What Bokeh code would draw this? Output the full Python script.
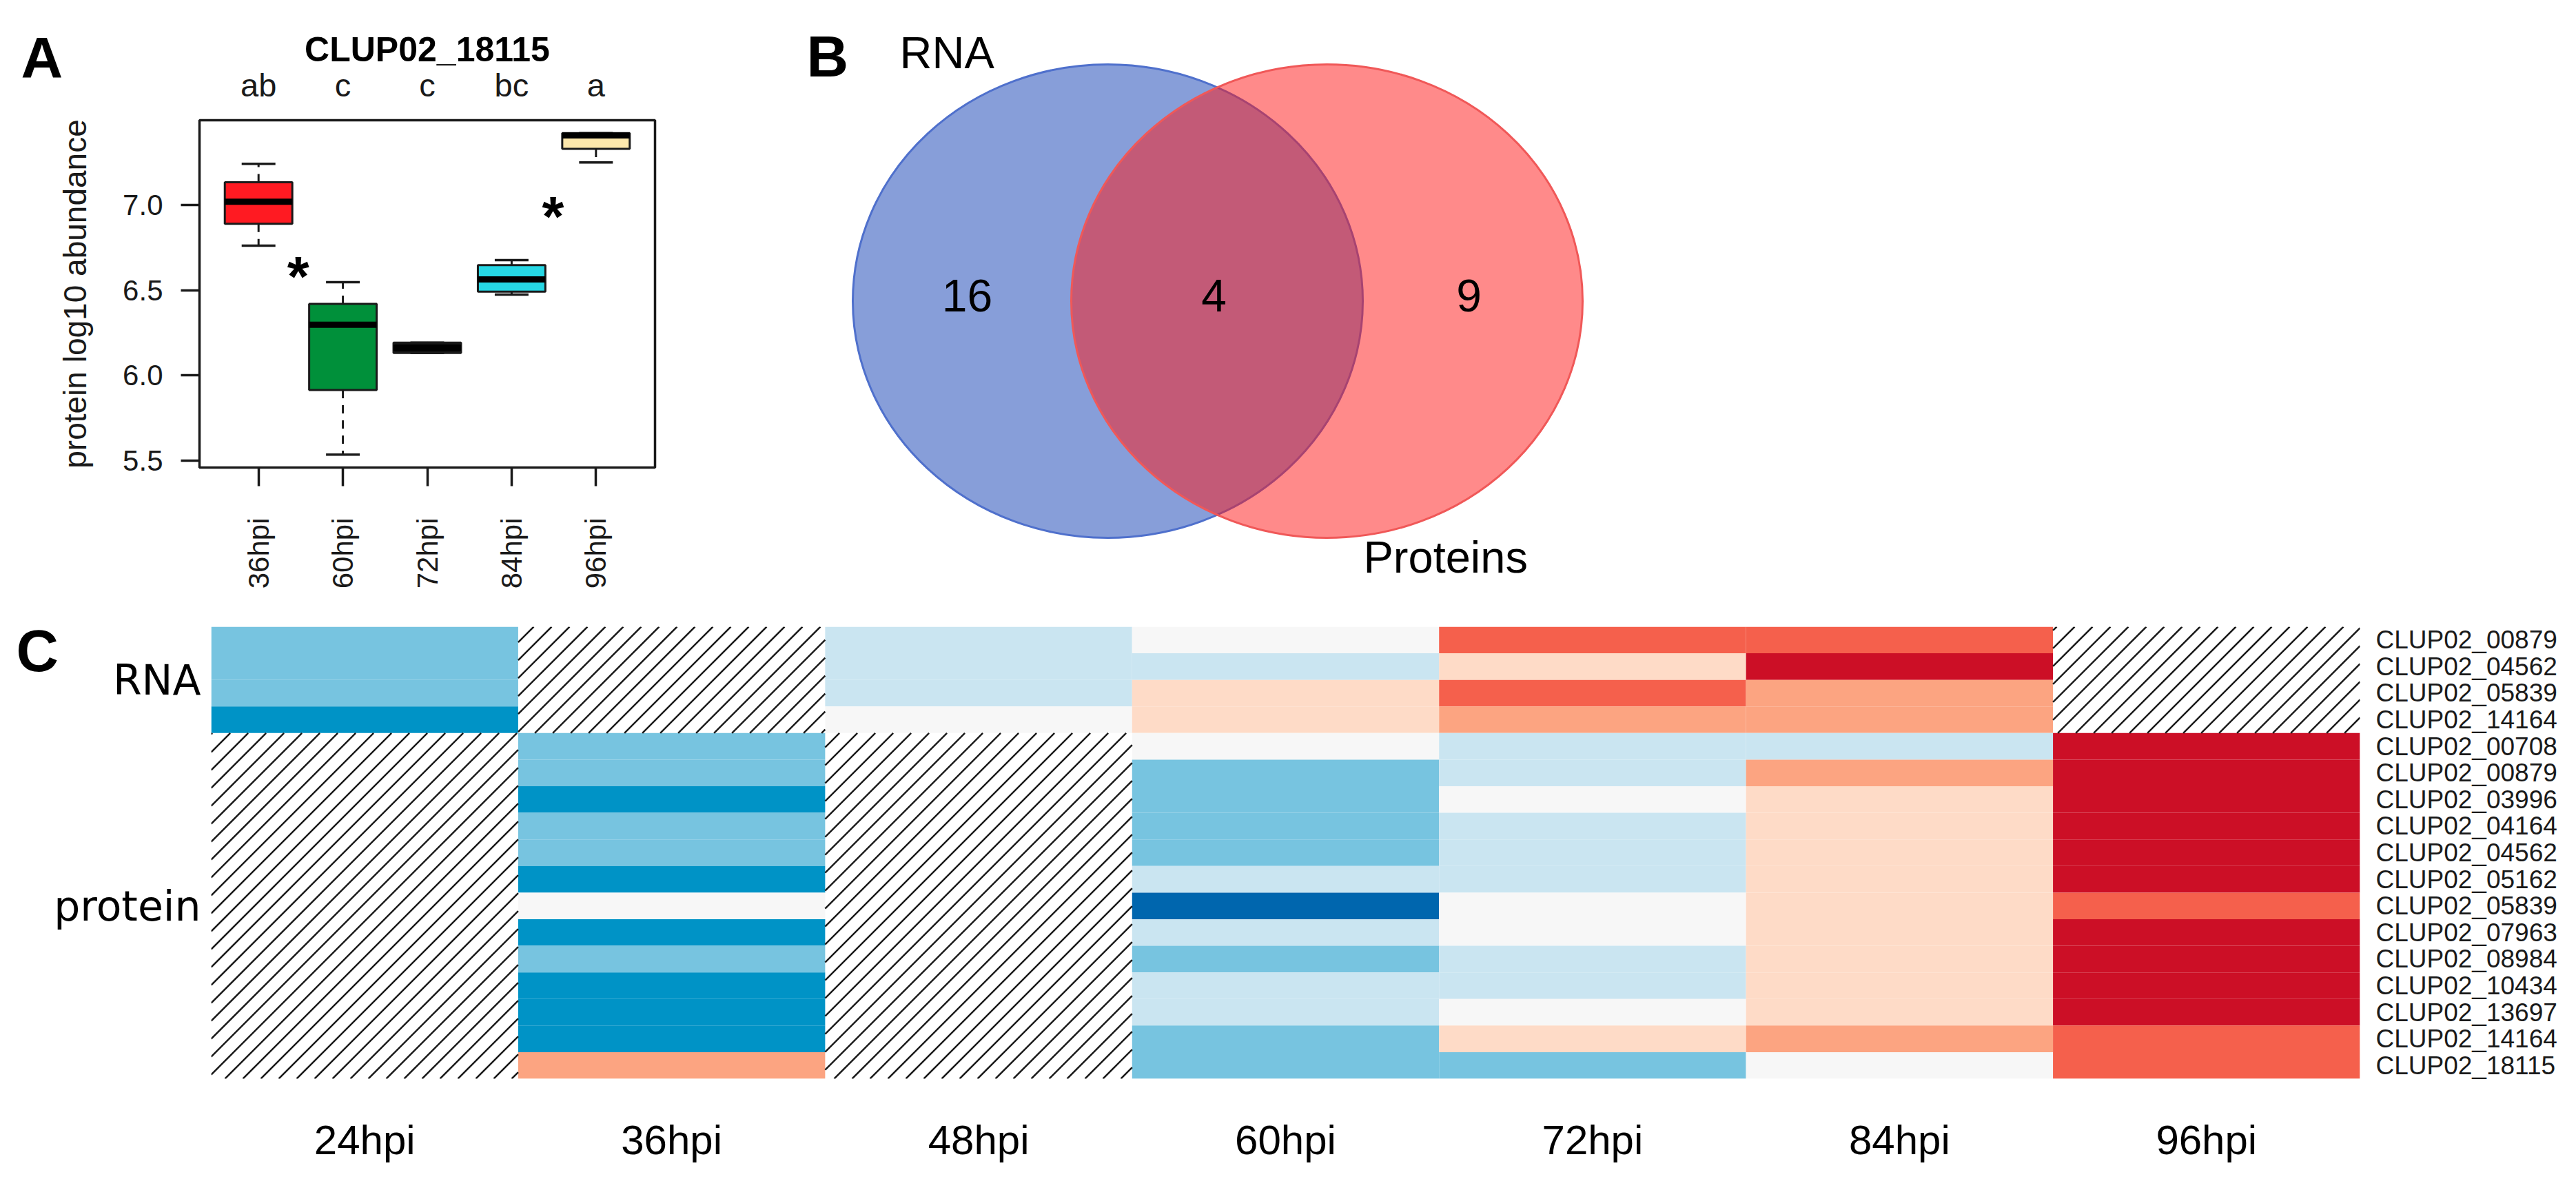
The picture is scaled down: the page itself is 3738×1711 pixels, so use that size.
import math
from bokeh.plotting import figure
from bokeh.models import (Range1d, FactorRange, FixedTicker, LinearAxis,
                          ColumnDataSource, PrintfTickFormatter)
from bokeh.layouts import column, row
from bokeh.transform import linear_cmap
from bokeh.embed import file_html
from bokeh.resources import INLINE
from bokeh.core.properties import value

# ------------------------------------------------------------------ data
# Panel A : boxplot of CLUP02_18115 protein abundance
box_groups = ["36hpi", "60hpi", "72hpi", "84hpi", "96hpi"]
box_low = [6.762, 5.534, 6.131, 6.474, 7.251]
box_q1 = [6.890, 5.914, 6.131, 6.492, 7.331]
box_median = [7.020, 6.297, 6.162, 6.564, 7.410]
box_q3 = [7.134, 6.420, 6.192, 6.648, 7.423]
box_high = [7.243, 6.547, 6.192, 6.677, 7.423]
box_colors = ["#FF1A22", "#00903A", "#111111", "#26D7E4", "#FDE8AC"]
group_letters = ["ab", "c", "c", "bc", "a"]
star_x = [1.47, 4.49]
star_y = [6.623, 6.975]
y_ticks_a = [5.5, 6.0, 6.5, 7.0]

# Panel B : Venn diagram
venn_sets = ["RNA", "Proteins"]
venn_counts = [16, 4, 9]  # RNA only, both, Proteins only

# Panel C : heatmap (levels -4..4, None = not detected)
hours = ["24hpi", "36hpi", "48hpi", "60hpi", "72hpi", "84hpi", "96hpi"]
rna_genes = ["CLUP02_00879", "CLUP02_04562", "CLUP02_05839", "CLUP02_14164"]
rna_levels = [
    [-2, None, -1, 0, 3, 3, None],
    [-2, None, -1, -1, 1, 4, None],
    [-2, None, -1, 1, 3, 2, None],
    [-3, None, 0, 1, 2, 2, None],
]
protein_genes = ["CLUP02_00708", "CLUP02_00879", "CLUP02_03996", "CLUP02_04164",
                 "CLUP02_04562", "CLUP02_05162", "CLUP02_05839", "CLUP02_07963",
                 "CLUP02_08984", "CLUP02_10434", "CLUP02_13697", "CLUP02_14164",
                 "CLUP02_18115"]
protein_levels = [
    [None, -2, None, 0, -1, -1, 4],
    [None, -2, None, -2, -1, 2, 4],
    [None, -3, None, -2, 0, 1, 4],
    [None, -2, None, -2, -1, 1, 4],
    [None, -2, None, -2, -1, 1, 4],
    [None, -3, None, -1, -1, 1, 4],
    [None, 0, None, -4, 0, 1, 3],
    [None, -3, None, -1, 0, 1, 4],
    [None, -2, None, -2, -1, 1, 4],
    [None, -3, None, -1, -1, 1, 4],
    [None, -3, None, -1, 0, 1, 4],
    [None, -3, None, -2, 1, 2, 3],
    [None, 2, None, -2, -2, 0, 3],
]
level_palette = ["#0066AE", "#0093C6", "#77C4E0", "#CAE5F1", "#F7F7F7",
                 "#FEDBC7", "#FCA481", "#F5604C", "#CC0F26"]

FONT = "Liberation Sans"
INK = "#1a1a1a"
# text glyphs anchored with "alphabetic" render about 0.36 em below the anchor
SHIFT = 0.36


def no_align(fig):
    if "frame_align" in fig.properties():
        fig.frame_align = False


# ------------------------------------------------------------------ panel A
n_box = len(box_groups)
xs = list(range(1, n_box + 1))
lo, hi = min(box_low), max(box_high)
pad = 0.04 * (hi - lo)
xpad = 0.04 * n_box
xa0, xa1 = 0.5 - xpad, n_box + 0.5 + xpad
ya0, ya1 = lo - pad, hi + pad

A_W, A_H = 1100, 880
A_L, A_R, A_T, A_B = 289, 150, 174, 202
pa = figure(width=A_W, height=A_H, title=None,
            x_range=Range1d(xa0, xa1), y_range=Range1d(ya0, ya1),
            x_axis_location=None, y_axis_location=None,
            min_border_left=A_L, min_border_right=A_R,
            min_border_top=A_T, min_border_bottom=A_B,
            output_backend="svg", toolbar_location=None)
no_align(pa)
pa.grid.visible = False
pa.outline_line_color = INK
pa.outline_line_width = 3.5

src = ColumnDataSource(dict(
    x=xs, low=box_low, q1=box_q1, med=box_median, q3=box_q3, high=box_high,
    color=box_colors,
    xl=[x - 0.4 for x in xs], xr=[x + 0.4 for x in xs],
    cl=[x - 0.2 for x in xs], cr=[x + 0.2 for x in xs]))

pa.segment(x0="x", y0="q3", x1="x", y1="high", source=src, line_color=INK,
           line_width=3, line_dash="12 10")
pa.segment(x0="x", y0="q1", x1="x", y1="low", source=src, line_color=INK,
           line_width=3, line_dash="12 10")
pa.segment(x0="cl", y0="high", x1="cr", y1="high", source=src, line_color=INK, line_width=3.5)
pa.segment(x0="cl", y0="low", x1="cr", y1="low", source=src, line_color=INK, line_width=3.5)
pa.vbar(x="x", width=0.8, bottom="q1", top="q3", source=src, fill_color="color",
        line_color=INK, line_width=3)
pa.segment(x0="xl", y0="med", x1="xr", y1="med", source=src, line_color="black",
           line_width=9, line_cap="butt")

pa.text(x=star_x, y=star_y, text=["*"] * len(star_x), text_font=value(FONT),
        text_font_size="82px", text_font_style="bold", text_align="center",
        text_baseline="alphabetic", y_offset=10, text_color="black")

# bottom axis (rotated group names)
xa = LinearAxis(ticker=FixedTicker(ticks=xs),
                major_label_overrides={x: g for x, g in zip(xs, box_groups)})
xa.major_label_orientation = math.pi / 2
xa.axis_line_color = None
xa.major_tick_out = 27
xa.major_tick_in = 0
xa.major_tick_line_width = 3.5
xa.major_tick_line_color = INK
xa.minor_tick_line_color = None
xa.major_label_standoff = 46
xa.major_label_text_font = FONT
xa.major_label_text_font_size = "42px"
xa.major_label_text_color = INK
pa.add_layout(xa, "below")

# top axis : significance letters + gene title
ta = LinearAxis(ticker=FixedTicker(ticks=xs),
                major_label_overrides={x: t for x, t in zip(xs, group_letters)},
                axis_label="CLUP02_18115")
ta.axis_line_color = None
ta.major_tick_line_color = None
ta.minor_tick_line_color = None
ta.major_label_standoff = 19
ta.major_label_text_font = FONT
ta.major_label_text_font_size = "47px"
ta.major_label_text_color = INK
ta.axis_label_text_font = FONT
ta.axis_label_text_font_size = "50px"
ta.axis_label_text_font_style = "bold"
ta.axis_label_text_color = "black"
ta.axis_label_standoff = -6
pa.add_layout(ta, "above")

ya = LinearAxis(ticker=FixedTicker(ticks=y_ticks_a),
                formatter=PrintfTickFormatter(format="%.1f"),
                axis_label="protein log10 abundance")
ya.axis_line_color = None
ya.major_tick_out = 27
ya.major_tick_in = 0
ya.major_tick_line_width = 3.5
ya.major_tick_line_color = INK
ya.minor_tick_line_color = None
ya.major_label_standoff = 26
ya.major_label_text_font = FONT
ya.major_label_text_font_size = "42px"
ya.major_label_text_color = INK
ya.axis_label_text_font = FONT
ya.axis_label_text_font_size = "46px"
ya.axis_label_text_font_style = "normal"
ya.axis_label_text_color = INK
ya.axis_label_standoff = 40
pa.add_layout(ya, "left")


def a_data(fx, fy):
    """figure-pixel position -> panel A data coordinates"""
    fw, fh = A_W - A_L - A_R, A_H - A_T - A_B
    return (xa0 + (fx - A_L) / fw * (xa1 - xa0), ya1 - (fy - A_T) / fh * (ya1 - ya0))


ax_, ay_ = a_data(30, 114 - SHIFT * 84)
pa.text(x=[ax_], y=[ay_], text=["A"], text_font=value(FONT), text_font_size="84px",
        text_font_style="bold", text_align="left", text_baseline="alphabetic",
        text_color="black", level="overlay")

# ------------------------------------------------------------------ panel B
pb = figure(width=1300, height=880, title=None,
            x_range=Range1d(-666, 634), y_range=Range1d(-443.5, 436.5),
            x_axis_location=None, y_axis_location=None, min_border=0,
            output_backend="svg", toolbar_location=None)
no_align(pb)
pb.grid.visible = False
pb.outline_line_color = None

pb.ellipse(x=[-159], y=[0], width=740, height=687, fill_color="#0F3DB3",
           fill_alpha=0.5, line_color="#4F70CC", line_width=3)
pb.ellipse(x=[159], y=[0], width=742, height=687, fill_color="#FF1515",
           fill_alpha=0.5, line_color="#F05858", line_width=3)

pb.text(x=[-363, -5, 365], y=[-15.5 + SHIFT * 66] * 3, text=[str(c) for c in venn_counts],
        text_font=value(FONT), text_font_size="66px", text_align="center",
        text_baseline="alphabetic", text_color="black")
pb.text(x=[-461, 212], y=[337.5 + SHIFT * 65, -394.5 + SHIFT * 65], text=venn_sets,
        text_font=value(FONT), text_font_size="65px", text_align="left",
        text_baseline="alphabetic", text_color="black")
pb.text(x=[-596], y=[324.5 + SHIFT * 84], text=["B"], text_font=value(FONT),
        text_font_size="84px", text_font_style="bold", text_align="left",
        text_baseline="alphabetic", text_color="black")

# ------------------------------------------------------------------ panel C
gene_rows = rna_genes + protein_genes
all_levels = rna_levels + protein_levels
n_rows = len(gene_rows)
n_cols = len(hours)

cx, cy, cv = [], [], []
for i, lv in enumerate(all_levels):
    for h, v in zip(hours, lv):
        if v is not None:
            cx.append(h)
            cy.append(i + 0.5)
            cv.append(v)

C_W, C_H = 3730, 829
C_L, C_R, C_T, C_B = 306, 306, 29, 144
pc = figure(width=C_W, height=C_H, title=None,
            x_range=FactorRange(*hours), y_range=Range1d(n_rows, 0),
            x_axis_location="below", y_axis_location=None,
            min_border_left=C_L, min_border_right=C_R,
            min_border_top=C_T, min_border_bottom=C_B,
            output_backend="svg", toolbar_location=None)
no_align(pc)
pc.grid.visible = False
pc.outline_line_color = None

pc.rect(x="x", y="y", width=1, height=1,
        source=ColumnDataSource(dict(x=cx, y=cy, level=cv)),
        fill_color=linear_cmap("level", level_palette, -4.5, 4.5),
        line_color=None)

# 45-degree hatching over the missing (not detected) blocks
fw_c, fh_c = C_W - C_L - C_R, C_H - C_T - C_B
cell_w, row_h = fw_c / n_cols, fh_c / n_rows
HATCH_STEP = 26
hx0, hy0, hx1, hy1 = [], [], [], []
for j in range(n_cols):
    i = 0
    while i < n_rows:
        if all_levels[i][j] is not None:
            i += 1
            continue
        k0 = i
        while i < n_rows and all_levels[i][j] is None:
            i += 1
        px0, px1 = j * cell_w, (j + 1) * cell_w
        py0, py1 = k0 * row_h, i * row_h
        c = math.ceil((px0 + py0) / HATCH_STEP) * HATCH_STEP
        while c < px1 + py1:
            xa_ = max(px0, c - py1)
            xb_ = min(px1, c - py0)
            if xb_ > xa_:
                hx0.append(xa_ / cell_w)
                hy0.append((c - xa_) / row_h)
                hx1.append(xb_ / cell_w)
                hy1.append((c - xb_) / row_h)
            c += HATCH_STEP
pc.segment(x0=hx0, y0=hy0, x1=hx1, y1=hy1, line_color="#1a1a1a", line_width=2.5)

pc.xaxis.axis_line_color = None
pc.xaxis.major_tick_line_color = None
pc.xaxis.minor_tick_line_color = None
pc.xaxis.major_label_text_font = FONT
pc.xaxis.major_label_text_font_size = "60px"
pc.xaxis.major_label_text_color = "black"
pc.xaxis.major_label_standoff = 49

# gene names at the right of every row
row_centers = [i + 0.5 for i in range(n_rows)]
pc.text(x=[n_cols] * n_rows, y=row_centers, text=gene_rows, x_offset=23,
        text_font=value(FONT), text_font_size="37px", text_align="left",
        text_baseline="middle", text_color=INK, level="overlay")

group_names = ["RNA", "protein"]
group_sizes = [len(rna_genes), len(protein_genes)]
group_centers = []
start = 0
for s in group_sizes:
    group_centers.append(start + s / 2)
    start += s
la = LinearAxis(ticker=FixedTicker(ticks=group_centers),
                major_label_overrides={c: g for c, g in zip(group_centers, group_names)})
la.axis_line_color = None
la.major_tick_line_color = None
la.minor_tick_line_color = None
la.major_label_standoff = 9
la.major_label_text_font = "DejaVu Sans"
la.major_label_text_font_size = "60px"
la.major_label_text_color = "black"
pc.add_layout(la, "left")

c_x = (23 - C_L) / fw_c * n_cols
c_y = (95 - SHIFT * 85 - C_T) / fh_c * n_rows
pc.text(x=[c_x], y=[c_y], text=["C"], text_font=value(FONT), text_font_size="85px",
        text_font_style="bold", text_align="left", text_baseline="alphabetic",
        text_color="black", level="overlay")

layout = column(row(pa, pb), pc)
open("out.html", "w").write(file_html(layout, INLINE))
